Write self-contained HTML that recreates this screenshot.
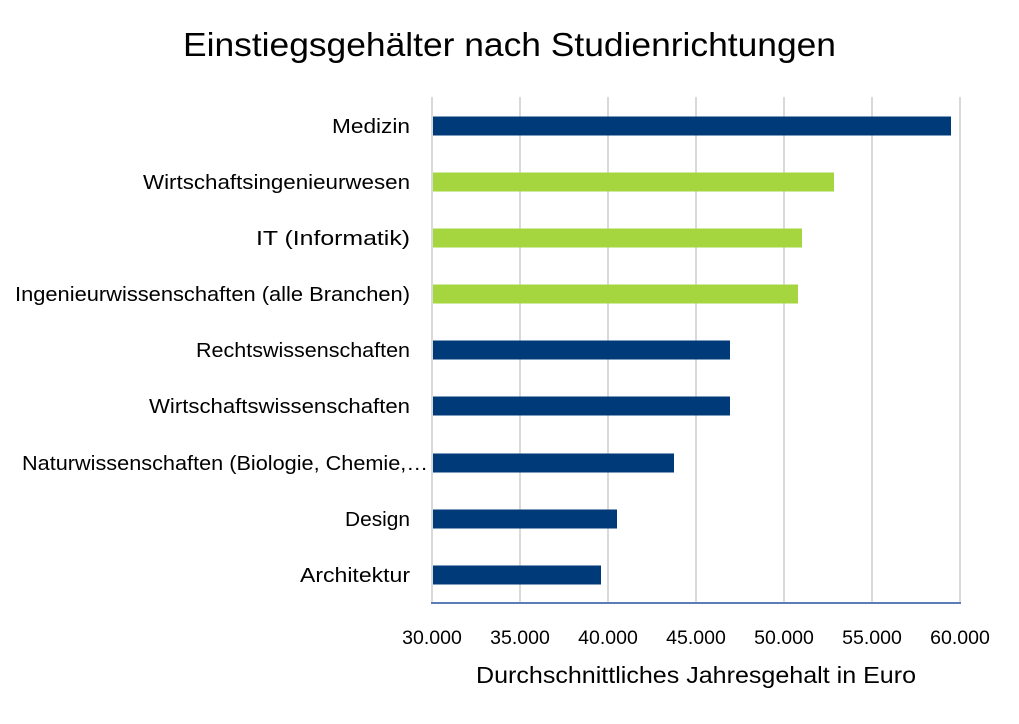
<!DOCTYPE html>
<html><head><meta charset="utf-8"><style>body{margin:0;background:#fff}svg{display:block}</style></head>
<body>
<svg width="1019" height="724" xmlns="http://www.w3.org/2000/svg" font-family="'Liberation Sans', 'DejaVu Sans', sans-serif">
<rect width="1019" height="724" fill="#fff"/>
<text x="183" y="56" font-size="33" fill="#000" textLength="653" lengthAdjust="spacingAndGlyphs">Einstiegsgehälter nach Studienrichtungen</text>
<g stroke="#d9d9d9" stroke-width="2">
<line x1="432" y1="97" x2="432" y2="603"/><line x1="520" y1="97" x2="520" y2="603"/><line x1="608" y1="97" x2="608" y2="603"/><line x1="696" y1="97" x2="696" y2="603"/><line x1="784" y1="97" x2="784" y2="603"/><line x1="872" y1="97" x2="872" y2="603"/><line x1="960" y1="97" x2="960" y2="603"/>
</g>
<g>
<rect x="433" y="116.5" width="518" height="19" fill="#003a78"/>
<rect x="433" y="172.5" width="401" height="19" fill="#a5d63f"/>
<rect x="433" y="228.5" width="369" height="19" fill="#a5d63f"/>
<rect x="433" y="284.5" width="365" height="19" fill="#a5d63f"/>
<rect x="433" y="340.5" width="297" height="19" fill="#003a78"/>
<rect x="433" y="396.5" width="297" height="19" fill="#003a78"/>
<rect x="433" y="453.5" width="241" height="19" fill="#003a78"/>
<rect x="433" y="509.5" width="184" height="19" fill="#003a78"/>
<rect x="433" y="565.5" width="168" height="19" fill="#003a78"/>
</g>
<line x1="431" y1="603" x2="961" y2="603" stroke="#5a7db5" stroke-width="2"/>
<g font-size="20" fill="#000" lengthAdjust="spacingAndGlyphs">
<text x="332" y="133" textLength="78" lengthAdjust="spacingAndGlyphs">Medizin</text>
<text x="143" y="189" textLength="267" lengthAdjust="spacingAndGlyphs">Wirtschaftsingenieurwesen</text>
<text x="256" y="245" textLength="154" lengthAdjust="spacingAndGlyphs">IT (Informatik)</text>
<text x="15" y="301" textLength="395" lengthAdjust="spacingAndGlyphs">Ingenieurwissenschaften (alle Branchen)</text>
<text x="196" y="357" textLength="214" lengthAdjust="spacingAndGlyphs">Rechtswissenschaften</text>
<text x="149" y="413" textLength="261" lengthAdjust="spacingAndGlyphs">Wirtschaftswissenschaften</text>
<text x="22" y="470" textLength="406" lengthAdjust="spacingAndGlyphs">Naturwissenschaften (Biologie, Chemie,…</text>
<text x="345" y="526" textLength="65" lengthAdjust="spacingAndGlyphs">Design</text>
<text x="300" y="582" textLength="110" lengthAdjust="spacingAndGlyphs">Architektur</text>
</g>
<g font-size="19.5" fill="#000" text-anchor="middle">
<text x="432" y="644">30.000</text><text x="520" y="644">35.000</text><text x="608" y="644">40.000</text><text x="696" y="644">45.000</text><text x="784" y="644">50.000</text><text x="872" y="644">55.000</text><text x="960" y="644">60.000</text>
</g>
<text x="476" y="683" font-size="23" fill="#000" textLength="440" lengthAdjust="spacingAndGlyphs">Durchschnittliches Jahresgehalt in Euro</text>
</svg>
</body></html>
